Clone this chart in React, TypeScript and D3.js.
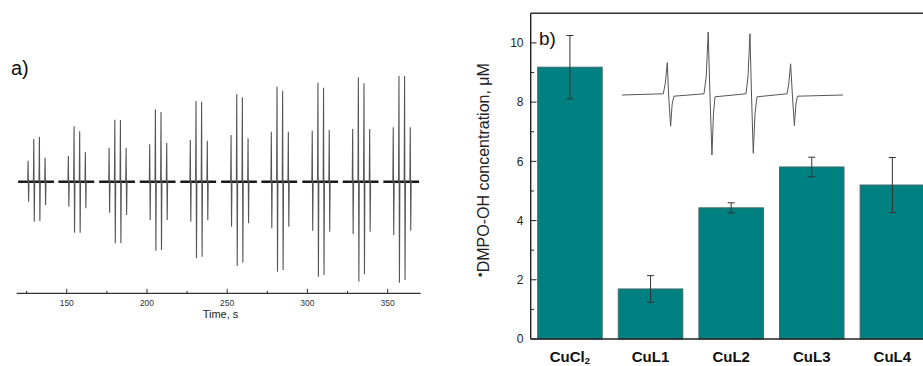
import React from "react";
import * as d3 from "d3";

// ---------- Panel a) data: EPR spectra recorded over time ----------
const timeTicks = [150, 200, 250, 300, 350];
const timeMinorTicks = [125, 175, 225, 275, 325];
const scanStarts = [125.9, 151.0, 176.4, 201.7, 227.0, 252.4, 277.5, 303.0, 328.2, 353.5];
const lineOffsets = [0, 3.55, 7.05, 10.6];
const scanUp = [
  [21, 42.7, 45, 24],
  [25.7, 55.4, 50.4, 29.7],
  [34, 62, 61.7, 33.7],
  [37.4, 72.4, 69.7, 39],
  [41.7, 80.7, 80, 41],
  [46.7, 87.7, 84.4, 43.4],
  [50, 95, 91, 50],
  [51, 99, 94, 51.7],
  [52.7, 104.4, 98.4, 52.7],
  [54.4, 106, 105.7, 54.4],
];
const scanDown = [
  [-20, -40, -39.3, -23.3],
  [-25, -51, -51, -26.6],
  [-31, -61.6, -61.6, -33.3],
  [-38.3, -69, -68.3, -38.3],
  [-40, -76.6, -75, -38.3],
  [-45, -84.3, -81, -41.6],
  [-46.6, -90, -88.3, -45],
  [-49, -95, -93.3, -50],
  [-52.3, -100, -92.6, -50],
  [-53.3, -101, -98.3, -49],
];

// ---------- Panel b) data ----------
const categories = ["CuCl2", "CuL1", "CuL2", "CuL3", "CuL4"];
const concValues = [9.18, 1.69, 4.43, 5.81, 5.2];
const concErrors = [1.07, 0.45, 0.17, 0.33, 0.93];
const concTicks = [0, 2, 4, 6, 8, 10];
const concMinorTicks = [1, 3, 5, 7, 9];

// inset spectrum vertices (field units 0..100, amplitude -1..1)
const insetTrace: [number, number][] = [
  [0, 0], [18.7, 0.02], [19.6, 0.2], [20.5, 0.54], [21.1, 0.0], [22.0, -0.52], [22.7, -0.15], [23.5, -0.02],
  [37.1, 0.02], [38.1, 0.3], [39.0, 1.05], [39.8, 0.0], [40.7, -1.0], [41.4, -0.3], [42.1, -0.03],
  [56.1, 0.02], [57.0, 0.3], [57.9, 1.02], [58.6, 0.0], [59.4, -0.97], [60.2, -0.3], [61.1, -0.03],
  [74.7, 0.02], [75.5, 0.2], [76.3, 0.52], [77.1, 0.0], [78.0, -0.51], [78.7, -0.15], [79.4, -0.02],
  [100, 0],
];

const FONT = "'Liberation Sans', Arial, sans-serif";

export default function App() {
  // ----- panel a scales -----
  const xa = d3.scaleLinear().domain([118.8, 370.6]).range([16.7, 420.7]);
  const ya = d3.scaleLinear().domain([-110, 110]).range([291.7, 71.7]);
  const axisYa = 293.3;
  const line = d3.line<[number, number]>().x((d) => xa(d[0])).y((d) => ya(d[1]));

  // ----- panel b scales -----
  const xb = d3
    .scaleBand<string>()
    .domain(categories)
    .range([530.7, 931.6])
    .paddingInner(0.2)
    .paddingOuter(0.0868);
  const yb = d3.scaleLinear().domain([0, 11]).range([339, 13.3]);
  const xi = d3.scaleLinear().domain([0, 100]).range([622, 843]);
  const yi = d3.scaleLinear().domain([-1, 1]).range([155, 35]);
  const insetLine = d3.line<[number, number]>().x((d) => xi(d[0])).y((d) => yi(d[1]));

  return (
    <svg
      width={923}
      height={366}
      style={{ position: "absolute", left: 0, top: 0, background: "#fff" }}
      fontFamily={FONT}
    >
      {/* ===== Panel a ===== */}
      <text x={11} y={75} fontSize={20} fill="#111">a)</text>
      {scanStarts.map((t0, gi) => {
        const base: [number, number][] = [
          [t0 - 6.2, 0],
          [t0 + lineOffsets[3] + 5.5, 0],
        ];
        return (
          <g key={gi}>
            <path d={line(base) || ""} stroke="#1a1a1a" strokeWidth={2.6} fill="none" />
            {lineOffsets.map((off, li) => {
              const t = t0 + off;
              const pts: [number, number][] = [
                [t - 0.25, 0],
                [t, scanUp[gi][li]],
                [t + 0.3, scanDown[gi][li]],
                [t + 0.55, 0],
              ];
              return (
                <path key={li} d={line(pts) || ""} stroke="#555" strokeWidth={1.1} fill="none" />
              );
            })}
          </g>
        );
      })}
      <line x1={xa.range()[0]} x2={xa.range()[1]} y1={axisYa} y2={axisYa} stroke="#333" strokeWidth={1.2} />
      {timeTicks.map((t) => (
        <g key={t}>
          <line x1={xa(t)} x2={xa(t)} y1={axisYa} y2={axisYa - 4.5} stroke="#333" strokeWidth={1} />
          <text x={xa(t)} y={305.5} fontSize={8.5} textAnchor="middle" fill="#333">{t}</text>
        </g>
      ))}
      {timeMinorTicks.map((t) => (
        <line key={t} x1={xa(t)} x2={xa(t)} y1={axisYa} y2={axisYa - 2.5} stroke="#333" strokeWidth={1} />
      ))}
      <text x={220.5} y={318} fontSize={11} textAnchor="middle" fill="#222">Time, s</text>

      {/* ===== Panel b ===== */}
      {categories.map((c, i) => {
        const x0 = xb(c)!;
        const cx = x0 + xb.bandwidth() / 2;
        return (
          <g key={c}>
            <rect
              x={x0}
              y={yb(concValues[i])}
              width={xb.bandwidth()}
              height={yb(0) - yb(concValues[i])}
              fill="#008080"
              stroke="#3d6b6b"
              strokeWidth={1}
            />
            <line x1={cx} x2={cx} y1={yb(concValues[i] + concErrors[i])} y2={yb(concValues[i] - concErrors[i])} stroke="#333" strokeWidth={1} />
            <line x1={cx - 3.5} x2={cx + 3.5} y1={yb(concValues[i] + concErrors[i])} y2={yb(concValues[i] + concErrors[i])} stroke="#333" strokeWidth={1} />
            <line x1={cx - 3.5} x2={cx + 3.5} y1={yb(concValues[i] - concErrors[i])} y2={yb(concValues[i] - concErrors[i])} stroke="#333" strokeWidth={1} />
            <text x={cx} y={361.5} fontSize={15} fontWeight="bold" textAnchor="middle" fill="#111">
              {c === "CuCl2" ? (
                <>
                  CuCl<tspan fontSize={9.5} dy={2}>2</tspan>
                </>
              ) : (
                c
              )}
            </text>
          </g>
        );
      })}
      {/* frame */}
      <line x1={530.7} x2={530.7} y1={13.3} y2={339} stroke="#222" strokeWidth={1.4} />
      <line x1={530.7} x2={931.6} y1={339} y2={339} stroke="#222" strokeWidth={1.4} />
      <line x1={530.7} x2={931.6} y1={13.3} y2={13.3} stroke="#333" strokeWidth={1.4} />
      {concTicks.map((v) => (
        <g key={v}>
          <line x1={530.7} x2={536.5} y1={yb(v)} y2={yb(v)} stroke="#222" strokeWidth={1} />
          <text x={523.5} y={yb(v) + 4.2} fontSize={12} textAnchor="end" fill="#222">{v}</text>
        </g>
      ))}
      {concMinorTicks.map((v) => (
        <line key={v} x1={530.7} x2={534} y1={yb(v)} y2={yb(v)} stroke="#222" strokeWidth={1} />
      ))}
      <text transform="translate(489,170) rotate(-90)" fontSize={16} textAnchor="middle" fill="#222">
        <tspan dy={-4} fontSize={13}>•</tspan>
        <tspan dy={4}>DMPO-OH concentration, μM</tspan>
      </text>
      <text x={539} y={45} fontSize={19} fill="#111">b)</text>

      {/* inset spectrum */}
      <path d={insetLine(insetTrace) || ""} stroke="#555" strokeWidth={1} fill="none" />
    </svg>
  );
}
